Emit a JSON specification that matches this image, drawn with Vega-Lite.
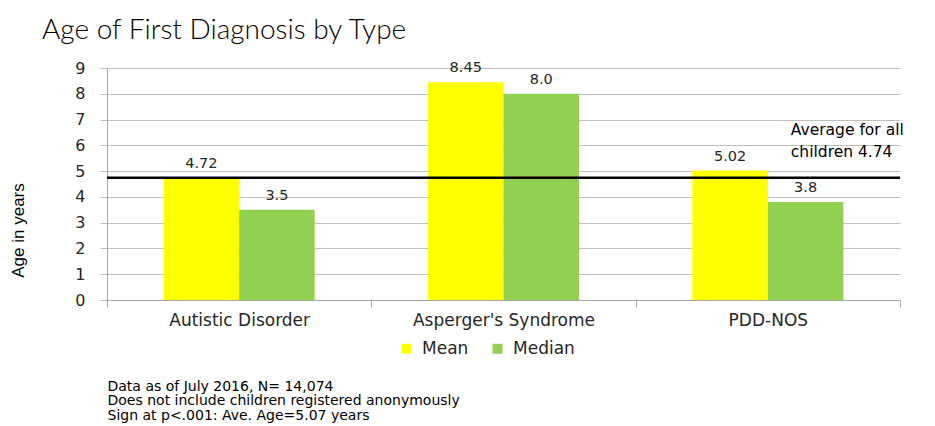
{
  "$schema": "https://vega.github.io/schema/vega-lite/v6.json",
  "autosize": {"type": "none"},
  "width": 793,
  "height": 232,
  "padding": {"left": 107, "top": 68, "right": 35, "bottom": 126},
  "background": "white",
  "config": {"view": {"stroke": null}},
  "title": {
    "text": "Age of First Diagnosis by Type",
    "anchor": "start",
    "frame": "group",
    "dx": -65,
    "dy": 35,
    "offset": 22,
    "baseline": "bottom",
    "font": "Lato",
    "fontSize": 28,
    "fontWeight": 300,
    "color": "#000000"
  },
  "data": {
    "values": [
      {"type": "Autistic Disorder", "stat": "Mean", "age": 4.72, "label": "4.72"},
      {"type": "Autistic Disorder", "stat": "Median", "age": 3.5, "label": "3.5"},
      {"type": "Asperger's Syndrome", "stat": "Mean", "age": 8.45, "label": "8.45"},
      {"type": "Asperger's Syndrome", "stat": "Median", "age": 8.0, "label": "8.0"},
      {"type": "PDD-NOS", "stat": "Mean", "age": 5.02, "label": "5.02"},
      {"type": "PDD-NOS", "stat": "Median", "age": 3.8, "label": "3.8"}
    ]
  },
  "encoding": {
    "x": {
      "field": "type",
      "type": "nominal",
      "sort": null,
      "scale": {"paddingInner": 0, "paddingOuter": 0},
      "axis": {
        "title": ["Data as of July 2016, N= 14,074", "Does not include  children  registered anonymously", "Sign at p<.001: Ave. Age=5.07 years"],
        "titleFont": "DejaVu Sans",
        "titleFontSize": 14,
        "titleFontWeight": "normal",
        "titleColor": "#000000",
        "titleAlign": "left",
        "titleAnchor": "start",
        "titleBaseline": "top",
        "titleX": 0,
        "titleY": 79,
        "titleLineHeight": 14.5,
        "labelAngle": 0,
        "labelFont": "DejaVu Sans",
        "labelFontSize": 17,
        "labelLimit": 0,
        "labelColor": "#262626",
        "labelPadding": 5,
        "tickBand": "extent",
        "tickSize": 7,
        "tickColor": "#A6A6A6",
        "domainColor": "#A6A6A6",
        "grid": false
      }
    },
    "xOffset": {"field": "stat", "type": "nominal", "scale": {"paddingInner": 0, "paddingOuter": 0.75}},
    "y": {
      "field": "age",
      "type": "quantitative",
      "scale": {"domain": [0, 9], "nice": false},
      "axis": {
        "values": [0, 1, 2, 3, 4, 5, 6, 7, 8, 9],
        "title": "Age  in years",
        "titleFont": "Liberation Sans",
        "titleFontSize": 17,
        "titleFontWeight": "normal",
        "titleColor": "#000000",
        "titleAngle": -90,
        "titleX": -89,
        "titleY": 162,
        "titleAlign": "center",
        "titleBaseline": "middle",
        "labelFont": "DejaVu Sans",
        "labelFontSize": 16,
        "labelColor": "#262626",
        "labelPadding": 15,
        "tickSize": 7,
        "tickColor": "#BFBFBF",
        "domainColor": "#A6A6A6",
        "grid": true,
        "gridColor": "#BFBFBF",
        "gridWidth": 1
      }
    }
  },
  "layer": [
    {
      "mark": {"type": "bar"},
      "encoding": {
        "color": {
          "field": "stat",
          "type": "nominal",
          "scale": {"domain": ["Mean", "Median"], "range": ["#FFFF00", "#92D050"]},
          "legend": {
            "title": null,
            "orient": "none",
            "direction": "horizontal",
            "legendX": 291,
            "legendY": 272,
            "symbolType": "square",
            "symbolSize": 100,
            "symbolStrokeWidth": 0,
            "labelFont": "DejaVu Sans",
            "labelFontSize": 17,
            "labelColor": "#262626",
            "labelOffset": 7,
            "columnPadding": 20,
            "padding": 0
          }
        }
      }
    },
    {
      "mark": {"type": "text", "dy": -10, "font": "DejaVu Sans", "fontSize": 14.5, "color": "#262626", "baseline": "alphabetic"},
      "encoding": {"text": {"field": "label"}}
    },
    {
      "data": {"values": [{"overall": 4.74}]},
      "mark": {"type": "rule", "color": "#000000", "strokeWidth": 2.5},
      "encoding": {"y": {"field": "overall", "type": "quantitative"}, "x": null, "xOffset": null}
    },
    {
      "data": {"values": [{"overall": 4.74, "type": "PDD-NOS", "note": "Average for all\nchildren 4.74"}]},
      "mark": {
        "type": "text",
        "align": "left",
        "baseline": "alphabetic",
        "lineBreak": "\n",
        "dx": 23,
        "dy": -43,
        "lineHeight": 22,
        "font": "DejaVu Sans",
        "fontSize": 15.5,
        "fontWeight": "normal",
        "color": "#000000"
      },
      "encoding": {
        "x": {"field": "type", "type": "nominal"},
        "xOffset": null,
        "y": {"field": "overall", "type": "quantitative"},
        "text": {"field": "note"}
      }
    }
  ]
}
